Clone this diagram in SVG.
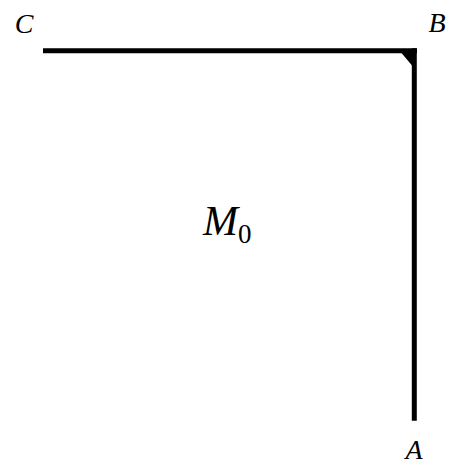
<svg xmlns="http://www.w3.org/2000/svg" width="453" height="468" viewBox="0 0 453 468">
<defs>
<style>
text{font-family:'Liberation Serif','Times New Roman','DejaVu Serif',serif;font-style:italic;fill:#000}
.edge{stroke:#000;stroke-width:5;fill:none;stroke-linecap:butt}
</style>
</defs>
<rect width="453" height="468" fill="#fff"/>
<g id="connectors">
<line class="edge" x1="43" y1="50.8" x2="417" y2="50.8"/>
<line class="edge" x1="414.3" y1="48.3" x2="414.3" y2="420.7"/>
<polygon points="401.5,53 412,53 412,65.5" fill="#000"/>
</g>
<g id="node-C"><text x="24" y="33" font-size="28" text-anchor="middle">C</text></g>
<g id="node-B"><text x="437" y="32" font-size="28" text-anchor="middle">B</text></g>
<g id="node-A"><text x="414" y="459" font-size="28" text-anchor="middle">A</text></g>
<g id="node-M0"><text x="203" y="235" font-size="42">M<tspan font-style="normal" font-size="27" dy="8">0</tspan></text></g>
</svg>
